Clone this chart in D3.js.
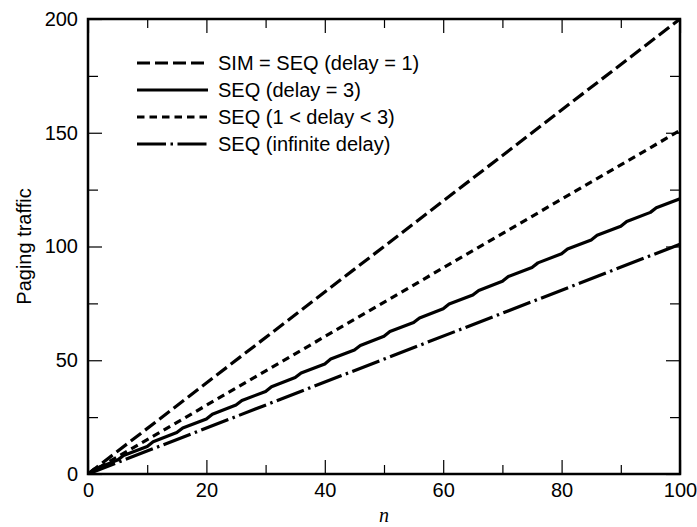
<!DOCTYPE html>
<html>
<head>
<meta charset="utf-8">
<script src="https://cdn.jsdelivr.net/npm/d3@7"></script>
<style>
  body { margin: 0; background: #fff; }
  svg text { font-family: "Liberation Sans", Arial, Helvetica, sans-serif; fill: #000; }
</style>
</head>
<body>
<svg id="chart" width="697" height="527"></svg>
<script>
// series
const seriesNames = [
  "SIM = SEQ (delay = 1)",
  "SEQ (delay = 3)",
  "SEQ (1 < delay < 3)",
  "SEQ (infinite delay)"
];

const simN = [0, 100];
const simTraffic = [0, 200];

// the delay = 3 curve has a small jog every 5 steps of n
const seq3N = [0, 1, 5, 6, 10, 11, 15, 16, 20, 21, 25, 26, 30, 31, 35, 36, 40, 41, 45, 46,
  50, 51, 55, 56, 60, 61, 65, 66, 70, 71, 75, 76, 80, 81, 85, 86, 90, 91, 95, 96, 100];
const seq3Traffic = [0, 2.1, 6.1, 8.1, 12.1, 14.2, 18.2, 20.2, 24.2, 26.3, 30.3, 32.3, 36.3, 38.4,
  42.4, 44.4, 48.4, 50.5, 54.5, 56.5, 60.5, 62.6, 66.6, 68.6, 72.6, 74.7, 78.7, 80.7, 84.7, 86.8,
  90.8, 92.8, 96.8, 98.9, 102.9, 104.9, 108.9, 111.0, 115.0, 117.0, 121.0];

const seqMidN = [0, 100];
const seqMidTraffic = [0, 151];

const seqInfN = [0, 100];
const seqInfTraffic = [0, 101];

const xMajorTicks = [0, 20, 40, 60, 80, 100];
const xMinorTicks = [10, 30, 50, 70, 90];
const yMajorTicks = [0, 50, 100, 150, 200];
const yMinorTicks = [25, 75, 125, 175];

const margin = { top: 19, right: 17, bottom: 53, left: 88 };
const W = 697, H = 527;
const width = W - margin.left - margin.right;
const height = H - margin.top - margin.bottom;

const svg = d3.select("#chart");
const g = svg.append("g").attr("transform", `translate(${margin.left},${margin.top})`);

const x = d3.scaleLinear().domain([0, 100]).range([0, width]);
const y = d3.scaleLinear().domain([0, 200]).range([height, 0]);

g.append("clipPath").attr("id", "clip")
  .append("rect").attr("width", width).attr("height", height);

function styleAxis(sel) {
  sel.select(".domain").remove();
  sel.selectAll(".tick line").attr("stroke", "#000").attr("stroke-width", 1.2);
  sel.selectAll(".tick text").style("font-size", "20px");
}

// bottom: labelled majors + minors, ticks pointing in
g.append("g").attr("transform", `translate(0,${height})`)
  .call(d3.axisBottom(x).tickValues(xMajorTicks).tickSize(-14).tickPadding(9).tickFormat(d3.format("d")))
  .call(styleAxis);
g.append("g").attr("transform", `translate(0,${height})`)
  .call(d3.axisBottom(x).tickValues(xMinorTicks).tickSize(-9).tickFormat(""))
  .call(styleAxis);
// top
g.append("g")
  .call(d3.axisTop(x).tickValues(xMajorTicks).tickSize(-14).tickFormat(""))
  .call(styleAxis);
g.append("g")
  .call(d3.axisTop(x).tickValues(xMinorTicks).tickSize(-9).tickFormat(""))
  .call(styleAxis);
// left
g.append("g")
  .call(d3.axisLeft(y).tickValues(yMajorTicks).tickSize(-14).tickPadding(10).tickFormat(d3.format("d")))
  .call(styleAxis);
g.append("g")
  .call(d3.axisLeft(y).tickValues(yMinorTicks).tickSize(-10).tickFormat(""))
  .call(styleAxis);
// right
g.append("g").attr("transform", `translate(${width},0)`)
  .call(d3.axisRight(y).tickValues(yMajorTicks).tickSize(-14).tickFormat(""))
  .call(styleAxis);
g.append("g").attr("transform", `translate(${width},0)`)
  .call(d3.axisRight(y).tickValues(yMinorTicks).tickSize(-10).tickFormat(""))
  .call(styleAxis);

// series
const series = [
  { name: seriesNames[0], n: simN, v: simTraffic, dash: "13,5" },
  { name: seriesNames[1], n: seq3N, v: seq3Traffic, dash: null },
  { name: seriesNames[2], n: seqMidN, v: seqMidTraffic, dash: "7.5,5" },
  { name: seriesNames[3], n: seqInfN, v: seqInfTraffic, dash: "29,4.5,2.5,4.5" }
];

const line = d3.line().x(d => x(d[0])).y(d => y(d[1]));

const plot = g.append("g").attr("clip-path", "url(#clip)");
series.forEach(s => {
  plot.append("path")
    .datum(s.n.map((n, i) => [n, s.v[i]]))
    .attr("d", line)
    .attr("fill", "none")
    .attr("stroke", "#000")
    .attr("stroke-width", 3.2)
    .attr("stroke-linejoin", "round")
    .attr("stroke-dasharray", s.dash);
});

// frame
g.append("rect")
  .attr("width", width).attr("height", height)
  .attr("fill", "none").attr("stroke", "#000").attr("stroke-width", 2.5);

// legend
const legend = g.append("g").attr("transform", "translate(49,44)");
series.forEach((s, i) => {
  const row = legend.append("g").attr("transform", `translate(0,${i * 27})`);
  row.append("line")
    .attr("x1", 0).attr("x2", 71)
    .attr("stroke", "#000").attr("stroke-width", 3.2)
    .attr("stroke-dasharray", s.dash);
  row.append("text")
    .attr("x", 81).attr("dy", "0.35em")
    .style("font-size", "20px")
    .text(s.name);
});

// axis titles
svg.append("text")
  .attr("transform", `translate(24,${margin.top + height / 2}) rotate(-90)`)
  .attr("text-anchor", "middle").attr("dy", "0.35em")
  .style("font-size", "20px")
  .text("Paging traffic");

svg.append("text")
  .attr("x", margin.left + width / 2).attr("y", 522)
  .attr("text-anchor", "middle")
  .style("font-family", "'Liberation Serif', 'Times New Roman', serif")
  .style("font-style", "italic")
  .style("font-size", "20px")
  .text("n");
</script>
</body>
</html>
